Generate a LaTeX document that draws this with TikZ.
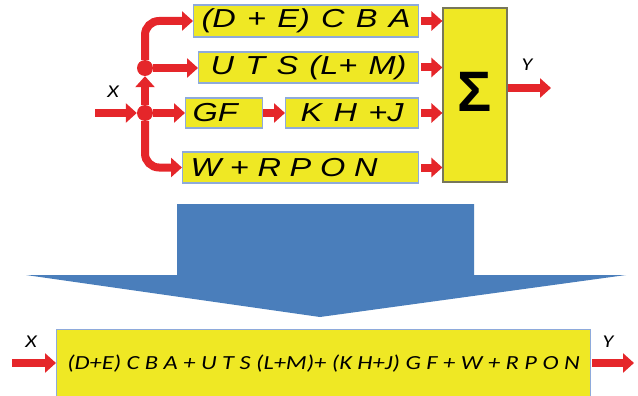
\documentclass[tikz,border=0pt]{standalone}
\usepackage{fontspec}
\setmainfont{Liberation Sans}
\newfontfamily\calfont[FakeStretch=1.22]{Carlito}
\newfontfamily\boxfont[WordSpace=1.25, FakeStretch=1.25]{Liberation Sans}
\usepackage{xcolor}
\usetikzlibrary{arrows.meta,positioning}
\definecolor{boxyellow}{HTML}{EFE824}
\definecolor{boxedge}{HTML}{8EAADB}
\definecolor{sumedge}{HTML}{77775A}
\definecolor{flowred}{HTML}{E5262A}
\definecolor{bigblue}{HTML}{4A7EBB}

\begin{document}
\begin{tikzpicture}[
  x=1pt, y=-1pt,
  block/.style={draw=boxedge, line width=1.2pt, fill=boxyellow, inner sep=0pt,
    anchor=west, font=\boxfont\itshape\fontsize{26}{30}\selectfont},
  arrow/.style={flowred, line width=8pt, -{Triangle[length=11pt, width=19pt]}},
  junction/.style={circle, fill=flowred, inner sep=0pt, minimum size=16pt},
  signal/.style={font=\calfont\itshape\fontsize{18}{20}\selectfont}
]
\useasboundingbox (0,0) rectangle (638,396);

% parallel form
\node[block, minimum width=225pt, minimum height=32pt] (dcba) at (193,21) {(D + E) C B A};
\node[block, minimum width=220pt, minimum height=31pt] (utslm) at (198,67.5) {U T S (L+ M)};
\node[block, minimum width=77pt, minimum height=30pt, text width=63pt, align=left] (gf) at (185,113) {GF};
\node[block, minimum width=133pt, minimum height=30pt] (khj) at (285,113) {K H +J};
\node[block, minimum width=236pt, minimum height=31pt, text width=220pt, align=left] (wrpon) at (182,167.5) {W + R P O N};
\node[block, draw=sumedge, minimum width=64pt, minimum height=174pt, anchor=center,
  font=\bfseries\fontsize{57}{57}\selectfont] (sum) at (475,95) {\raisebox{6pt}{Σ}};

\node[junction] (lowj) at (145,113) {};
\node[junction] (upj) at (145,68) {};
\coordinate (xin) at (95,113);
\coordinate (yout) at (551,88);
\node[signal] (xlab) at (113,92) {X};
\node[signal] (ylab) at (527,65) {Y};

\draw[arrow] (xin) -- (lowj);
\draw[arrow] (lowj) -- (upj);
\draw[arrow, rounded corners=14pt] (upj) |- (dcba.west);
\draw[arrow] (upj) -- (upj -| utslm.west);
\draw[arrow] (lowj) -- (gf.west);
\draw[arrow] (gf) -- (khj);
\draw[arrow, rounded corners=14pt] (lowj) |- (wrpon.west);
\foreach \b in {dcba,utslm,khj,wrpon}
  \draw[arrow] ([xshift=2pt]\b.east) -- (\b.east -| sum.west);
\draw[arrow] (sum.east |- yout) -- (yout);

% reduction arrow
\fill[bigblue] (177,204) -- (474,204) -- (474,275) -- (626,275) -- (320,317)
  -- (26,275) -- (177,275) -- cycle;

% single block
\node[block, anchor=north west, minimum width=534pt, inner ysep=9pt,
  text height=31pt, text depth=40pt, font=\calfont\itshape\fontsize{20}{24}\selectfont]
  (flat) at (56,329) {(D+E) C B A + U T S (L+M)+ (K H+J) G F + W + R P O N};
\coordinate (xflat) at (12,363);
\coordinate (yflat) at (634,363);
\node[signal] (xlab2) at (31,342) {X};
\node[signal] (ylab2) at (608,342) {Y};
\draw[arrow] (xflat) -- (xflat -| flat.west);
\draw[arrow] ([xshift=1pt]flat.east |- yflat) -- (yflat);
\end{tikzpicture}
\end{document}
